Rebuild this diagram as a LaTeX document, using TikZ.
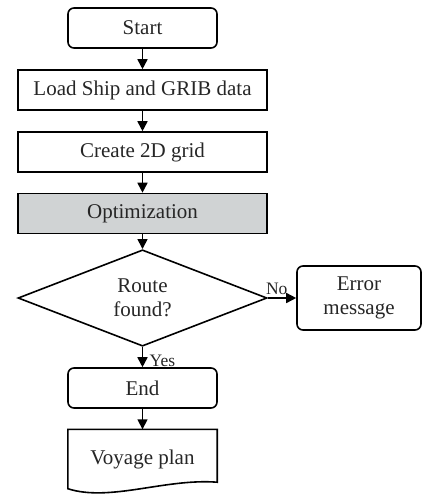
\documentclass[tikz,border=0pt]{standalone}
\usepackage{fontspec}
\setmainfont{Liberation Serif}
\usetikzlibrary{shapes.geometric,arrows.meta}
\definecolor{optgray}{RGB}{208,211,212}
\begin{document}
\begin{tikzpicture}[x=1pt,y=-1pt,
  every node/.style={font=\fontsize{21}{25}\selectfont, text=black!85},
  base/.style={draw=black, line width=1.6pt, inner sep=0pt, align=center},
  roundbox/.style={base, rounded corners=6pt, minimum width=149pt, minimum height=40pt},
  procbox/.style={base, minimum width=249pt, minimum height=40pt},
  decision/.style={base, diamond, minimum width=249pt, minimum height=80pt},
  conn/.style={line width=1.6pt, -{Triangle[length=10pt,width=10pt]}},
  lbl/.style={font=\fontsize{17.5}{20}\selectfont, inner sep=0pt}]
\useasboundingbox (0,0) rectangle (426,496);
\node[roundbox] (start) at (142.5,28) {Start};
\node[procbox] (load) at (142.5,90) {Load Ship and GRIB data};
\node[procbox] (grid) at (142.5,152) {Create 2D grid};
\node[procbox, fill=optgray] (opt) at (142.5,213.5) {Optimization};
\node[decision] (dec) at (142.5,298) {Route\\[-1pt]found?};
\node[roundbox, minimum width=124pt, minimum height=64pt] (err) at (359,298) {Error\\[-1pt]message};
\node[roundbox] (end) at (142.5,388) {End};
\node[inner sep=0pt, minimum width=149pt, minimum height=59pt] (vp) at (142.5,459) {Voyage plan};
\draw[line width=1.6pt, line join=miter]
  (vp.north west) -- (vp.north east) -- ([yshift=6.5pt]vp.south east)
  .. controls ([xshift=-52pt,yshift=10.5pt]vp.south east) and ([xshift=42pt,yshift=-13.5pt]vp.south west) .. (vp.south west) -- cycle;
\draw[conn] (start) -- (load);
\draw[conn] (load) -- (grid);
\draw[conn] (grid) -- (opt);
\draw[conn] (opt) -- (dec);
\draw[conn] (dec.east) -- (err.west);
\draw[conn] (dec.south) -- (end.north);
\draw[conn] (end) -- (vp.north);
\node[lbl, anchor=south west] (no) at ([xshift=-2pt,yshift=3pt]dec.east) {No};
\node[lbl, anchor=west] (yes) at ([xshift=7pt,yshift=-14pt]dec.south) {Yes};
\end{tikzpicture}
\end{document}
